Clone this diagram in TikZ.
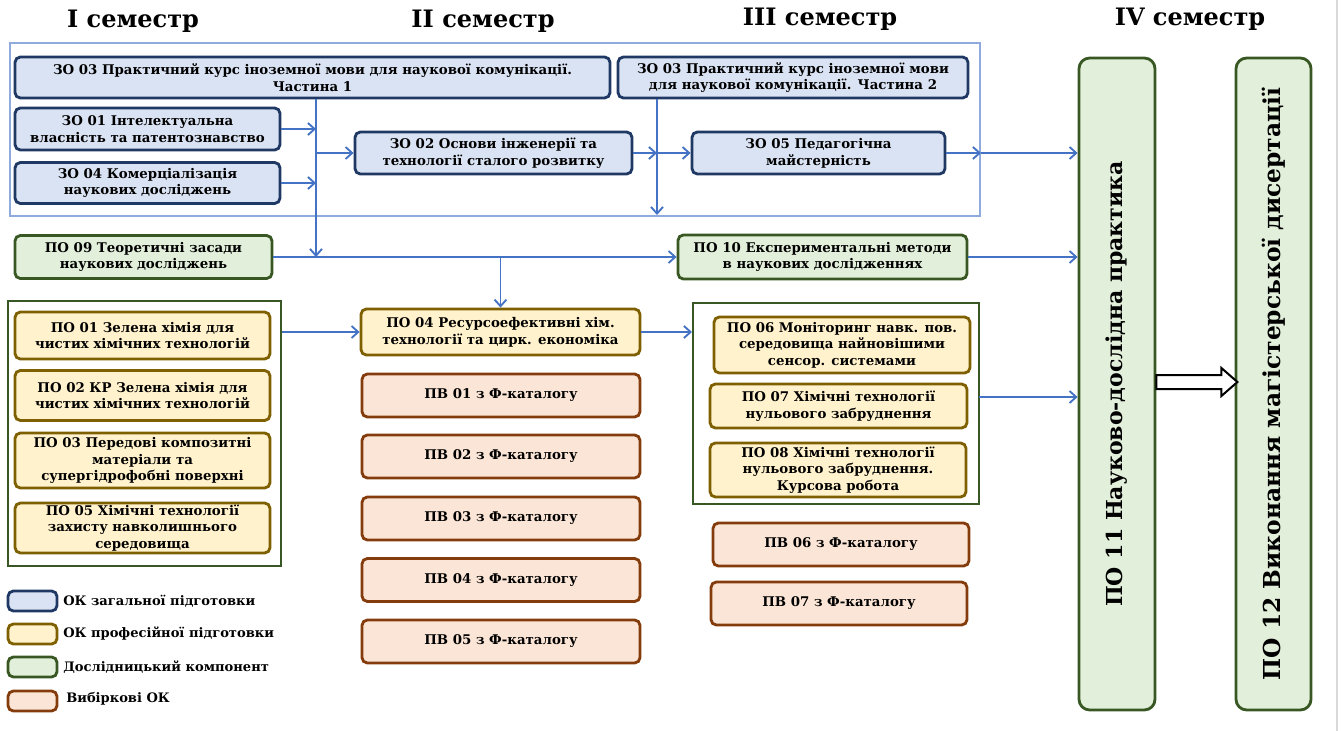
\documentclass[tikz,border=0pt]{standalone}
\usepackage{graphicx}
\usepackage{fontspec}
\setmainfont{DejaVu Serif}
\usetikzlibrary{arrows.meta, positioning}

\definecolor{zofill}{HTML}{DAE3F3}
\definecolor{zodraw}{HTML}{1F3864}
\definecolor{pofill}{HTML}{FFF2CC}
\definecolor{podraw}{HTML}{7F6000}
\definecolor{rcfill}{HTML}{E2EFDA}
\definecolor{rcdraw}{HTML}{385723}
\definecolor{pvfill}{HTML}{FBE5D6}
\definecolor{pvdraw}{HTML}{843C0C}
\definecolor{arrblue}{HTML}{4472C4}
\definecolor{frblue}{HTML}{8FAADC}

\tikzset{
	box/.style={rounded corners=4pt, line width=2.1pt, align=center, inner sep=1pt, font=\bfseries\fontsize{10}{12.5}\selectfont},
	zo/.style={box, draw=zodraw, fill=zofill},
	po/.style={box, draw=podraw, fill=pofill},
	rc/.style={box, draw=rcdraw, fill=rcfill},
	pv/.style={box, draw=pvdraw, fill=pvfill},
	frm/.style={line width=1.5pt, inner sep=0pt},
	arr/.style={->, arrblue, line width=1.4pt},
	fat/.style={draw=black, fill=white, line width=1.5pt, line join=miter},
	sem/.style={font=\bfseries\fontsize{18}{22}\selectfont},
	leg/.style={anchor=west, inner sep=0pt, font=\bfseries\fontsize{9.8}{12}\selectfont}
}

\begin{document}
\begin{tikzpicture}[x=0.75pt,y=-0.75pt,>={Straight Barb[length=5pt,width=9pt]}]

	\useasboundingbox (0,0) rectangle (1343,731);
	\draw[black!15, line width=1.5pt] (1337,0) -- (1337,731);

	\node[sem] (s1) at (133,21) {I семестр};
	\node[sem] (s2) at (483,21) {II семестр};
	\node[sem] (s3) at (820,19) {III семестр};
	\node[sem] (s4) at (1190,19) {IV семестр};

	\node[frm, draw=frblue, minimum width=970*0.75pt, minimum height=173*0.75pt] (zfr) at (495,129.5) {};
	\node[frm, draw=rcdraw, minimum width=273*0.75pt, minimum height=265*0.75pt] (gfl) at (144.5,433.5) {};
	\node[frm, draw=rcdraw, minimum width=286*0.75pt, minimum height=201*0.75pt] (gfm) at (836,403.5) {};

	\node[zo, minimum width=595*0.75pt, minimum height=41*0.75pt] (zo03a) at (312.5,77.5) {ЗО 03 Практичний курс іноземної мови для наукової комунікації.\\Частина 1};
	\node[zo, minimum width=350*0.75pt, minimum height=41*0.75pt] (zo03b) at (793,77.5) {ЗО 03 Практичний курс іноземної мови\\для наукової комунікації. Частина 2};
	\node[zo, minimum width=265*0.75pt, minimum height=42*0.75pt] (zo01) at (147.5,129) {ЗО 01 Інтелектуальна\\власність та патентознавство};
	\node[zo, minimum width=265*0.75pt, minimum height=41*0.75pt] (zo04) at (147.5,183) {ЗО 04 Комерціалізація\\наукових досліджень};
	\node[zo, minimum width=277*0.75pt, minimum height=42*0.75pt] (zo02) at (493.5,153) {ЗО 02 Основи інженерії та\\технології сталого розвитку};
	\node[zo, minimum width=253*0.75pt, minimum height=42*0.75pt] (zo05) at (818.5,153) {ЗО 05 Педагогічна\\майстерність};

	\node[rc, minimum width=257*0.75pt, minimum height=43*0.75pt] (po09) at (143.5,257) {ПО 09 Теоретичні засади\\наукових досліджень};
	\node[rc, minimum width=289*0.75pt, minimum height=44*0.75pt] (po10) at (822.5,257) {ПО 10 Експериментальні методи\\в наукових дослідженнях};

	\node[po, minimum width=255*0.75pt, minimum height=47*0.75pt] (po01) at (142.5,335.5) {ПО 01 Зелена хімія для\\чистих хімічних технологій};
	\node[po, minimum width=255*0.75pt, minimum height=50*0.75pt] (po02) at (142.5,395.5) {ПО 02 КР Зелена хімія для\\чистих хімічних технологій};
	\node[po, minimum width=255*0.75pt, minimum height=55*0.75pt] (po03) at (142.5,460.5) {ПО 03 Передові композитні\\матеріали та\\супергідрофобні поверхні};
	\node[po, minimum width=255*0.75pt, minimum height=50*0.75pt] (po05) at (142.5,528) {ПО 05 Хімічні технології\\захисту навколишнього\\середовища};

	\node[po, minimum width=279*0.75pt, minimum height=46*0.75pt] (po04) at (500.5,332) {ПО 04 Ресурсоефективні хім.\\технології та цирк. економіка};
	\foreach \n/\yy in {01/395.5, 02/456.5, 03/518.5, 04/580, 05/641.5}
		\node[pv, minimum width=278*0.75pt, minimum height=43*0.75pt] (pv\n) at (501,\yy) {ПВ \n{} з Ф-каталогу};

	\node[po, minimum width=256*0.75pt, minimum height=56*0.75pt] (po06) at (842,345) {ПО 06 Моніторинг навк. пов.\\середовища найновішими\\сенсор. системами};
	\node[po, minimum width=257*0.75pt, minimum height=44*0.75pt] (po07) at (838.5,406) {ПО 07 Хімічні технології\\нульового забруднення};
	\node[po, minimum width=256*0.75pt, minimum height=54*0.75pt] (po08) at (838,470) {ПО 08 Хімічні технології\\нульового забруднення.\\Курсова робота};
	\node[pv, minimum width=256*0.75pt, minimum height=43*0.75pt] (pv06) at (841,544.5) {ПВ 06 з Ф-каталогу};
	\node[pv, minimum width=256*0.75pt, minimum height=43*0.75pt] (pv07) at (839,603.5) {ПВ 07 з Ф-каталогу};

	\node[rc, minimum width=76*0.75pt, minimum height=652*0.75pt, rounded corners=8pt, font=\bfseries\fontsize{16.5}{20}\selectfont] (po11) at (1117,384) {\rotatebox{90}{ПО 11 Науково-дослідна практика}};
	\node[rc, minimum width=75*0.75pt, minimum height=652*0.75pt, rounded corners=8pt, font=\bfseries\fontsize{17.5}{20}\selectfont] (po12) at (1273.5,384) {\rotatebox{90}{ПО 12 Виконання магістерської дисертації}};

	% legend
	\node[zo, minimum width=49*0.75pt, minimum height=20*0.75pt] (lzo) at (32.5,601) {};
	\node[po, minimum width=49*0.75pt, minimum height=20*0.75pt] (lpo) at (32.5,634) {};
	\node[rc, minimum width=49*0.75pt, minimum height=20*0.75pt] (lrc) at (32.5,667) {};
	\node[pv, minimum width=49*0.75pt, minimum height=20*0.75pt] (lpv) at (32.5,701) {};
	\node[leg] (tzo) at (63,601) {ОК загальної підготовки};
	\node[leg] (tpo) at (63,634) {ОК професійної підготовки};
	\node[leg] (trc) at (63,667) {Дослідницький компонент};
	\node[leg] (tpv) at (66,699) {Вибіркові ОК};

	\coordinate (ta) at (316,257);
	\coordinate (tb) at (657,215);
	\coordinate (g7) at (979,397);

	\path [arr]
	(zo01) edge (zo01 -| ta)
	(zo04) edge (zo04 -| ta)
	(zo02 -| ta) edge (zo02)
	(zo03a.south -| ta) edge (ta)

	(zo02) edge (zo02 -| tb)
	(zo02 -| tb) edge (zo05)
	(zo03b.south -| tb) edge (tb)
	(zo05) edge (zo05 -| zfr.east)
	(zo05 -| zfr.east) edge (zo05 -| po11.west)

	(po09) edge (po10)
	(po04 |- po09) edge (po04)
	(gfl.east |- po04) edge (po04)
	(po04) edge (po04 -| gfm.west)
	(po10) edge (po10 -| po11.west)
	(g7) edge (g7 -| po11.west);

	\draw[fat] ([yshift=6.75pt]po11.east) -- ++(65,0) -- ++(0,-7) -- ++(16,14) -- ++(-16,14) -- ++(0,-7) -- ++(-65,0) -- cycle;

\end{tikzpicture}
\end{document}
